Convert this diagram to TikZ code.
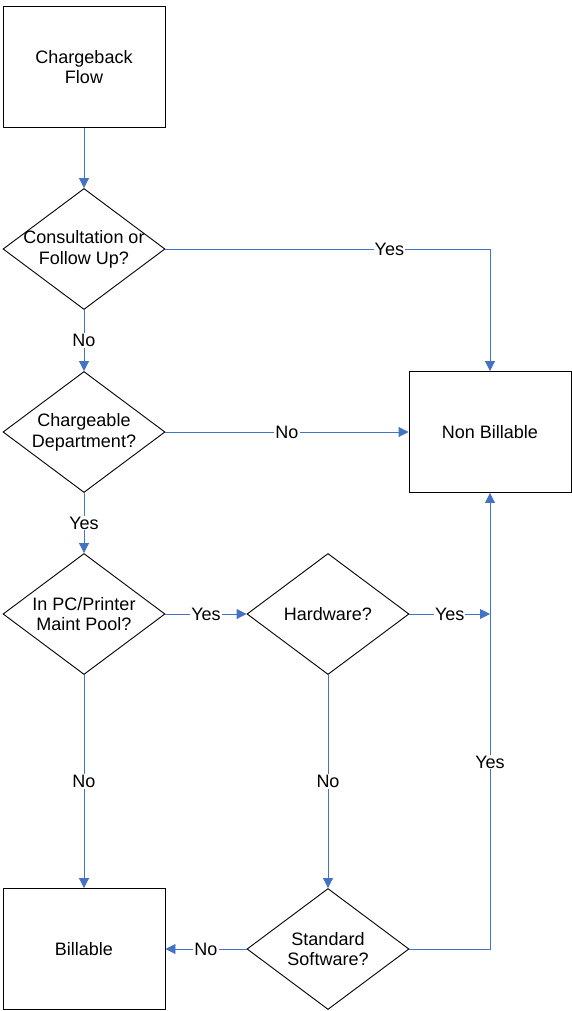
\documentclass[tikz,border=0pt]{standalone}
\usepackage{fontspec}
\setmainfont{Liberation Sans}
\usetikzlibrary{shapes.geometric,arrows.meta}
\definecolor{flowblue}{RGB}{68,114,196}
\begin{document}
\begin{tikzpicture}[x=1pt,y=-1pt,
  every node/.style={font=\fontsize{18}{20.7}\selectfont},
  procbox/.style={draw=black,line width=0.9pt,minimum width=162pt,minimum height=121pt,inner sep=0pt,align=center},
  decision/.style={draw=black,line width=0.9pt,diamond,aspect=1.339,minimum width=162pt,minimum height=121pt,inner sep=0pt},
  dtext/.style={align=center,inner sep=0pt},
  conn/.style={draw=flowblue,line width=0.9pt,-{Triangle[length=10pt,width=10pt]}},
  lbl/.style={fill=white,inner sep=1pt}]
\useasboundingbox (0,0) rectangle (572,1011);
\node[procbox] (start) at (84,67) {Chargeback\\Flow};
\node[decision] (d1) at (84,249) {};
\node[dtext] (t1) at (d1.center) {Consultation or\\Follow Up?};
\node[decision] (d2) at (84,432) {};
\node[dtext] (t2) at (d2.center) {Chargeable\\Department?};
\node[decision] (d3) at (84,614) {};
\node[dtext] (t3) at (d3.center) {In PC/Printer\\Maint Pool?};
\node[decision] (d4) at (328,614) {};
\node[dtext] (t4) at (d4.center) {Hardware?};
\node[decision] (d5) at (328,949) {};
\node[dtext] (t5) at (d5.center) {Standard\\Software?};
\node[procbox] (nb) at (490,432) {Non Billable};
\node[procbox] (bill) at (84,949) {Billable};
\coordinate (j1) at (490,614);
\coordinate (j2) at (490,949);

\draw[conn] (start) -- (d1);
\draw[conn] (d1.east) -| node[lbl,pos=0.345] {Yes} (nb.north);
\draw[conn] (d1.south) -- node[lbl,pos=0.5] {No} (d2.north);
\draw[conn] (d2.east) -- node[lbl,midway] {No} (nb.west);
\draw[conn] (d2.south) -- node[lbl,pos=0.5] {Yes} (d3.north);
\draw[conn] (d3.east) -- node[lbl,midway] {Yes} (d4.west);
\draw[conn] (d4.east) -- node[lbl,midway] {Yes} (j1);
\draw[conn] (d3.south) -- node[lbl,midway] {No} (bill.north);
\draw[conn] (d4.south) -- node[lbl,midway] {No} (d5.north);
\draw[conn] (d5.west) -- node[lbl,midway] {No} (bill.east);
\draw[conn] (d5.east) -- (j2) -- node[lbl,pos=0.41] {Yes} (nb.south);
\end{tikzpicture}
\end{document}
